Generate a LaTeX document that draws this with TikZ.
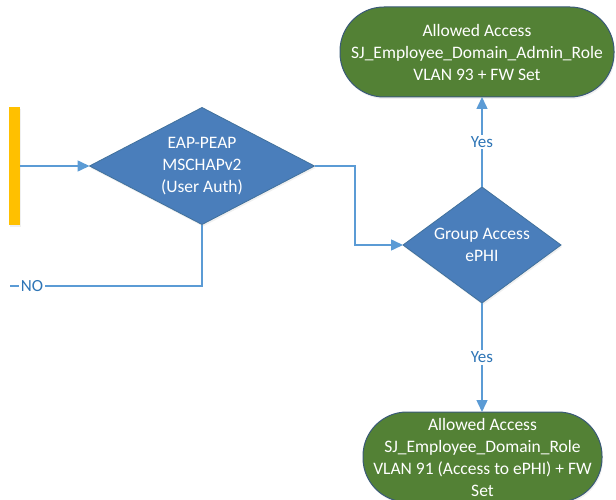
\documentclass[tikz,border=0pt]{standalone}
\usepackage{fontspec}
\setmainfont{Carlito}
\usetikzlibrary{shapes.geometric,arrows.meta,shadows}
\definecolor{decfill}{HTML}{4A7EBB}
\definecolor{decedge}{HTML}{41719C}
\definecolor{termfill}{HTML}{538135}
\definecolor{termedge}{HTML}{3A5A78}
\definecolor{connblue}{HTML}{5B9BD5}
\definecolor{lblblue}{HTML}{2E75B6}
\definecolor{srcyellow}{HTML}{FFC000}
\tikzset{
  softshadow/.style={drop shadow={opacity=0.12, shadow xshift=1pt, shadow yshift=-2pt}},
  decision/.style={diamond, draw=decedge, line width=0.8pt, fill=decfill, text=white,
    inner sep=0pt, outer sep=0pt, align=center, font=\fontsize{17.5}{22}\selectfont, softshadow},
  terminal/.style={rectangle, rounded corners=44pt, draw=termedge, line width=1pt, fill=termfill, text=white,
    inner sep=0pt, outer sep=0pt, align=center, font=\fontsize{17.5}{22}\selectfont, softshadow},
  conn/.style={draw=connblue, line width=1.5pt, -{Triangle[length=12pt,width=11pt]}},
  plainconn/.style={draw=connblue, line width=1.5pt},
  lbl/.style={fill=white, text=lblblue, inner sep=1.5pt, font=\fontsize{17}{19}\selectfont}
}
\begin{document}
\begin{tikzpicture}[x=1pt,y=-1pt]
\useasboundingbox (0,0) rectangle (616,500);

% source bar on the left edge
\node[fill=srcyellow, minimum width=11pt, minimum height=118pt, inner sep=0pt, outer sep=0pt, softshadow] (src) at (14.5,166) {};

% decisions
\node[decision, aspect=1.92, minimum width=225pt, minimum height=117pt] (eap) at (202,166)
  {EAP-PEAP\\MSCHAPv2\\(User Auth)};
\node[decision, aspect=1.36, minimum width=158pt, minimum height=116pt] (grp) at (482,245)
  {Group Access\\ePHI};

% outcomes
\node[terminal, minimum width=274pt, minimum height=90pt] (admin) at (477,52)
  {Allowed Access\\SJ\_Employee\_Domain\_Admin\_Role\\VLAN 93 + FW Set};
\node[terminal, minimum width=239pt, minimum height=90pt] (emp) at (482.5,457)
  {Allowed Access\\SJ\_Employee\_Domain\_Role\\VLAN 91 (Access to ePHI) + FW\\Set};

% routing points
\coordinate (bend) at (355,166);
\coordinate (noend) at (10,286);

% connectors
\draw[conn] (src.east) -- (eap.west);
\draw[conn] (eap.east) -- (bend) |- (grp.west);
\draw[conn] (grp.north) -- node[lbl] {Yes} (grp.north |- admin.south);
\draw[conn] (grp.south) -- node[lbl] {Yes} (grp.south |- emp.north);
\draw[plainconn] (eap.south) |- node[lbl, pos=0.943] {NO} (noend);
\end{tikzpicture}
\end{document}
